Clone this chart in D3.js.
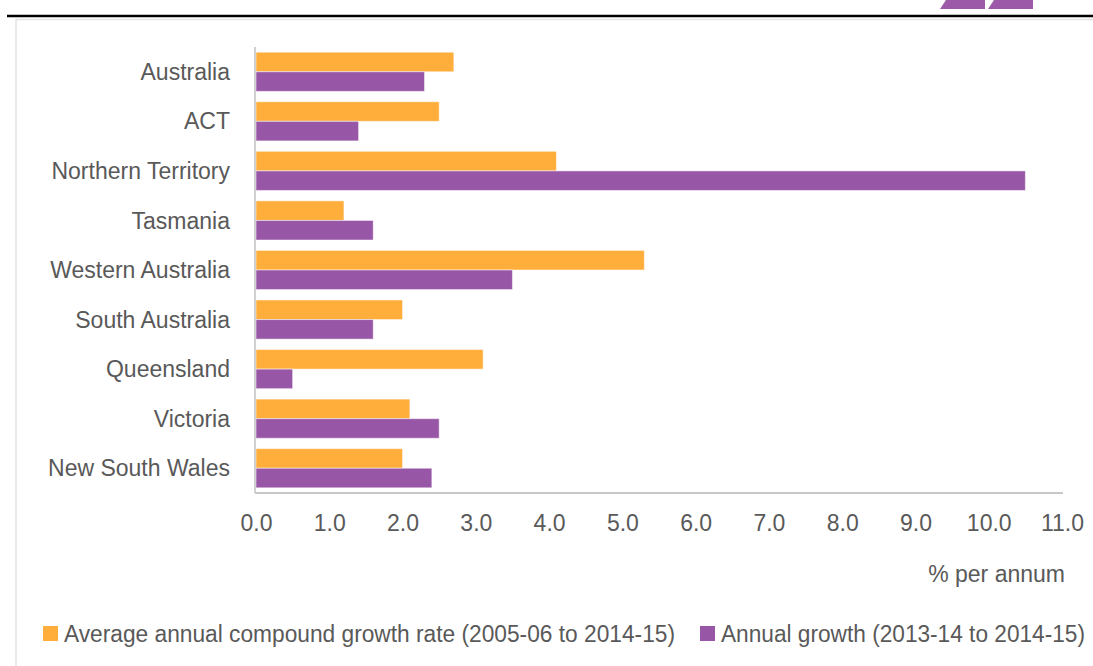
<!DOCTYPE html>
<html>
<head>
<meta charset="utf-8">
<script src="https://cdn.jsdelivr.net/npm/d3@7"></script>
<style>
  html, body { margin: 0; padding: 0; background: #fff; }
  svg { display: block; }
  text { font-family: "Liberation Sans Narrow", "Arial Narrow", "Liberation Sans", Arial, sans-serif; fill: #595959; }
</style>
</head>
<body>
<svg id="chart" width="1093" height="666"></svg>
<script>
// States and territories, top to bottom
const categories = ["Australia", "ACT", "Northern Territory", "Tasmania", "Western Australia",
                    "South Australia", "Queensland", "Victoria", "New South Wales"];
// Average annual compound growth rate (2005-06 to 2014-15), % per annum
const compoundGrowth = [2.7, 2.5, 4.1, 1.2, 5.3, 2.0, 3.1, 2.1, 2.0];
// Annual growth (2013-14 to 2014-15), % per annum
const annualGrowth = [2.3, 1.4, 10.5, 1.6, 3.5, 1.6, 0.5, 2.5, 2.4];
const xTicks = [0, 1, 2, 3, 4, 5, 6, 7, 8, 9, 10, 11];
const seriesNames = ["Average annual compound growth rate (2005-06 to 2014-15)",
                     "Annual growth (2013-14 to 2014-15)"];
const seriesKeys = ["compound", "annual"];
const colors = ["#FFAD3B", "#9857A6"];

const svg = d3.select("#chart");

// Page frame: heading rule and faint panel border
svg.append("line").attr("x1", 7).attr("x2", 1093).attr("y1", 16).attr("y2", 16)
  .attr("stroke", "#000").attr("stroke-width", 2.5);
svg.append("line").attr("x1", 16).attr("x2", 1093).attr("y1", 19.5).attr("y2", 19.5)
  .attr("stroke", "#e3e3e3").attr("stroke-width", 1.5);
svg.append("line").attr("x1", 16).attr("x2", 16).attr("y1", 19).attr("y2", 666)
  .attr("stroke", "#e3e3e3").attr("stroke-width", 1.5);

// Corner logo marks
[[940, 985], [988, 1033]].forEach(([a, b]) => {
  svg.append("polygon")
    .attr("points", `${a + 6},0 ${b},0 ${b},9 ${a},9`)
    .attr("fill", "#9B59A8");
});

const margin = { left: 256, right: 1062, top: 47, bottom: 493 };

const x = d3.scaleLinear().domain([0, 11]).range([margin.left, margin.right]);
const y0 = d3.scaleBand().domain(categories).range([margin.top, margin.bottom]).paddingInner(0.21).paddingOuter(0.105);
const y1 = d3.scaleBand().domain(seriesKeys).range([0, y0.bandwidth()]);

const rows = categories.map((c, i) => ({ cat: c, compound: compoundGrowth[i], annual: annualGrowth[i] }));

const g = svg.append("g");
const groups = g.selectAll("g.cat").data(rows).join("g")
  .attr("transform", d => `translate(0,${y0(d.cat)})`);

groups.selectAll("rect").data(d => seriesKeys.map((k, j) => ({ k, j, v: d[k] }))).join("rect")
  .attr("x", x(0))
  .attr("y", d => y1(d.k))
  .attr("width", d => x(d.v) - x(0))
  .attr("height", y1.bandwidth())
  .attr("fill", d => colors[d.j])
  .attr("stroke", "#fff")
  .attr("stroke-opacity", 0.5)
  .attr("stroke-width", 1);

// Category axis
const yAxis = g.append("g").attr("transform", `translate(${x(0) - 1},0)`)
  .call(d3.axisLeft(y0).tickSize(0).tickPadding(25));
yAxis.select(".domain").attr("stroke", "#d0d0d0").attr("stroke-width", 2)
  .attr("d", `M0,${margin.top}V${margin.bottom}`);
yAxis.selectAll("text").style("font-size", "23px").attr("fill", "#595959")
  .attr("dy", "0.35em");

// Value axis
const xAxis = g.append("g").attr("transform", `translate(0,${margin.bottom})`)
  .call(d3.axisBottom(x).tickValues(xTicks).tickFormat(d3.format(".1f")).tickSize(0).tickPadding(22));
xAxis.select(".domain").attr("stroke", "#c8c8c8").attr("stroke-width", 2)
  .attr("d", `M${x(0) - 1},0H${margin.right + 1}`);
xAxis.selectAll("text").style("font-size", "23px").attr("fill", "#595959");

svg.append("text").attr("x", 1065).attr("y", 582).attr("text-anchor", "end")
  .style("font-size", "23px").text("% per annum");

// Legend
const legendX = [43, 700];
const legendTextWidth = [611, 364];
seriesNames.forEach((name, i) => {
  svg.append("rect").attr("x", legendX[i]).attr("y", 626).attr("width", 15).attr("height", 15)
    .attr("fill", colors[i]);
  svg.append("text").attr("x", legendX[i] + 21).attr("y", 642)
    .attr("textLength", legendTextWidth[i]).attr("lengthAdjust", "spacingAndGlyphs")
    .style("font-size", "23px").text(name);
});
</script>
</body>
</html>
